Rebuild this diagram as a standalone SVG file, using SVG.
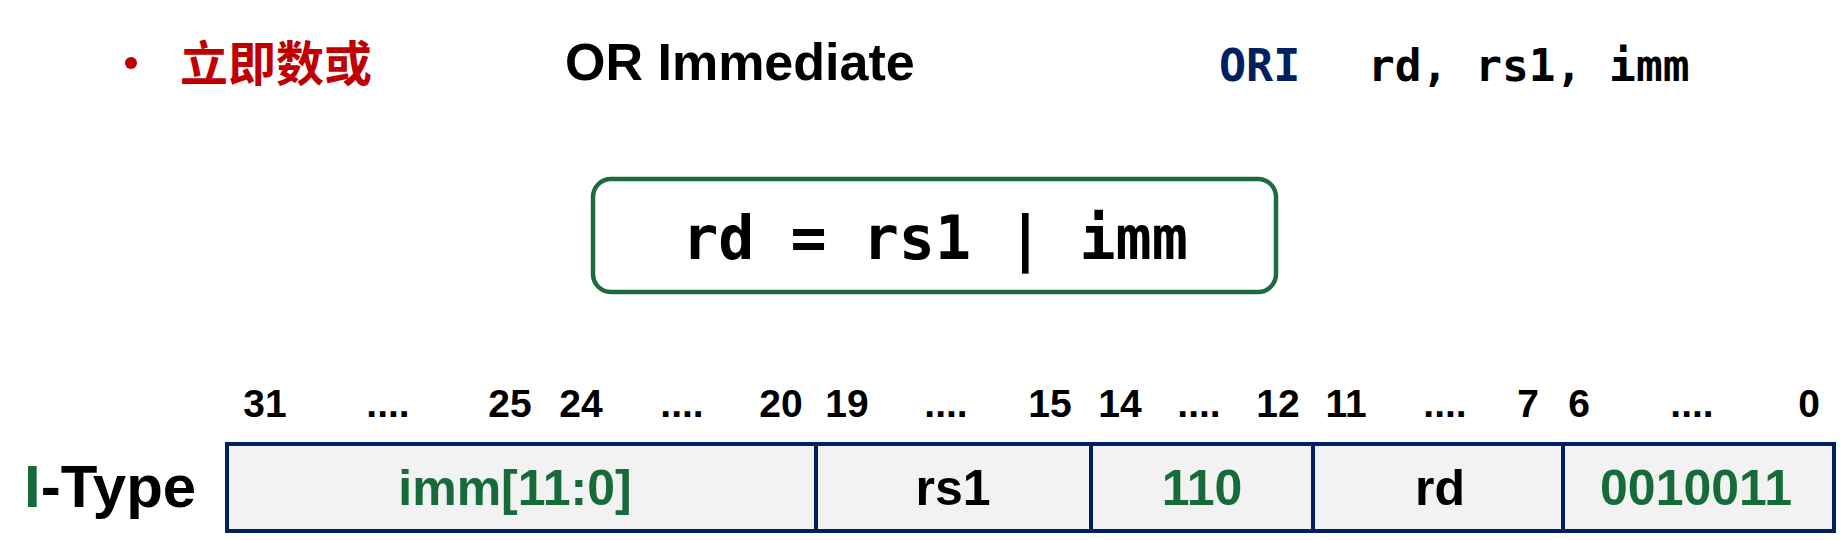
<svg xmlns="http://www.w3.org/2000/svg" width="1847" height="540" viewBox="0 0 1847 540">
<style>
.sans{font-family:"Liberation Sans",Arial,sans-serif;font-weight:bold}
.mono{font-family:"DejaVu Sans Mono","Liberation Mono",monospace;font-weight:bold}
.bit{font-family:"Liberation Sans",Arial,sans-serif;font-weight:bold;font-size:39px;fill:#000;text-anchor:middle}
.cell{fill:#F2F2F2;stroke:#002060;stroke-width:4}
.ctext{font-family:"Liberation Sans",Arial,sans-serif;font-weight:bold;font-size:50px;text-anchor:middle}
.green{fill:#176B3A}
.black{fill:#000}
</style>
<rect width="1847" height="540" fill="#fff"/>
<g id="title">
  <circle cx="131" cy="63" r="6" fill="#C00000"/>
  <text x="180" y="81" font-family="'Noto Sans CJK SC',sans-serif" font-weight="bold" font-size="48" fill="#C00000">立即数或</text>
  <text class="sans" x="565" y="80" font-size="52" fill="#000">OR Immediate</text>
</g>
<g id="syntax">
  <text class="mono" x="1219" y="81" font-size="45" fill="#002060">ORI</text>
  <text class="mono" x="1368" y="81" font-size="44.5" fill="#000">rd, rs1, imm</text>
</g>
<g id="formula">
  <rect x="593" y="179" width="683" height="113" rx="18" fill="#fff" stroke="#1E6B3E" stroke-width="4.5"/>
  <text class="mono" x="935" y="259" font-size="60" fill="#000" text-anchor="middle">rd = rs1 | imm</text>
</g>
<g id="bits">
  <text class="bit" x="265" y="417">31</text>
  <text class="bit" x="388" y="417">....</text>
  <text class="bit" x="510" y="417">25</text>
  <text class="bit" x="581" y="417">24</text>
  <text class="bit" x="682" y="417">....</text>
  <text class="bit" x="781" y="417">20</text>
  <text class="bit" x="847" y="417">19</text>
  <text class="bit" x="946" y="417">....</text>
  <text class="bit" x="1050" y="417">15</text>
  <text class="bit" x="1120" y="417">14</text>
  <text class="bit" x="1199" y="417">....</text>
  <text class="bit" x="1278" y="417">12</text>
  <text class="bit" x="1346" y="417">11</text>
  <text class="bit" x="1445" y="417">....</text>
  <text class="bit" x="1528" y="417">7</text>
  <text class="bit" x="1579" y="417">6</text>
  <text class="bit" x="1692" y="417">....</text>
  <text class="bit" x="1809" y="417">0</text>
</g>
<g id="itype-label">
  <text class="sans" x="24" y="507" font-size="60"><tspan fill="#176B3A">I</tspan><tspan fill="#000">-Type</tspan></text>
</g>
<g id="field-imm">
  <rect class="cell" x="227" y="444" width="589" height="87"/>
  <text class="ctext green" x="515" y="505">imm[11:0]</text>
</g>
<g id="field-rs1">
  <rect class="cell" x="816" y="444" width="275" height="87"/>
  <text class="ctext black" x="953" y="505">rs1</text>
</g>
<g id="field-funct3">
  <rect class="cell" x="1091" y="444" width="222" height="87"/>
  <text class="ctext green" x="1202" y="505">110</text>
</g>
<g id="field-rd">
  <rect class="cell" x="1313" y="444" width="250" height="87"/>
  <text class="ctext black" x="1440" y="505">rd</text>
</g>
<g id="field-opcode">
  <rect class="cell" x="1563" y="444" width="271" height="87"/>
  <text class="ctext green" x="1696" y="505">0010011</text>
</g>
</svg>
